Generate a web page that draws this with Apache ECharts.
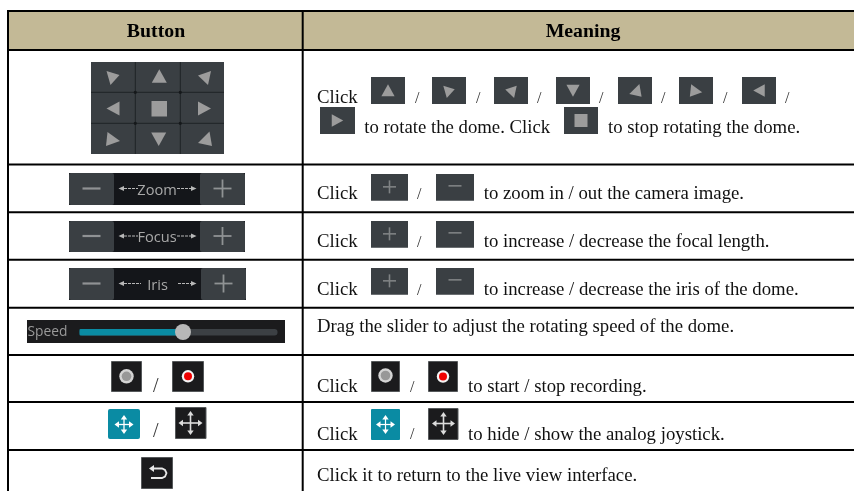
<!DOCTYPE html>
<html>
<head>
<meta charset="utf-8">
<style>html,body{margin:0;padding:0;background:#fff}#c{width:854px;height:491px}</style>
<script src="https://cdn.jsdelivr.net/npm/echarts@6/dist/echarts.min.js"></script>
</head>
<body>
<div id="c"></div>
<script>
// ---- text content ----
var headers = ['Button', 'Meaning'];
var clickWord = 'Click';
var rowTexts = [
  'to rotate the dome. Click', 'to stop rotating the dome.',
  'to zoom in / out the camera image.',
  'to increase / decrease the focal length.',
  'to increase / decrease the iris of the dome.',
  'Drag the slider to adjust the rotating speed of the dome.',
  'to start / stop recording.',
  'to hide / show the analog joystick.',
  'Click it to return to the live view interface.'
];
var barLabels = ['Zoom', 'Focus', 'Iris'];
var speedLabel = 'Speed';

// ---- drawing helpers ----
var els = [];
var SERIF = '"Liberation Serif","Times New Roman",serif';
var SANS = '"Open Sans","Noto Sans",sans-serif';
var DARK = '#3a3f43', GREY = '#9c9c9c', INK = '#1b1b1d', BORDER = '#55585a', TEAL = '#0a8ba3';
function rect(x, y, w, h, fill, r, stroke) {
  els.push({type:'rect', silent:true, shape:{x:x,y:y,width:w,height:h,r:r||0},
    style:{fill:fill, stroke:stroke||null, lineWidth:stroke?1:0}});
}
function line(x1,y1,x2,y2,c,w,dash){
  els.push({type:'line', silent:true, shape:{x1:x1,y1:y1,x2:x2,y2:y2},
    style:{stroke:c, lineWidth:w, lineDash:dash||null}});
}
function poly(pts,fill){ els.push({type:'polygon', silent:true, shape:{points:pts}, style:{fill:fill}}); }
function circ(x,y,r,fill){ els.push({type:'circle', silent:true, shape:{cx:x,cy:y,r:r}, style:{fill:fill}}); }
function text(t,x,base,size,opts){
  opts = opts||{};
  // baseline sits a little under the em-box middle
  els.push({type:'text', silent:true, x:x, y:base-0.22*size, style:{text:t, fill:opts.fill||'#111',
    font:(opts.bold?'bold ':'')+size+'px '+(opts.family||SERIF),
    align:opts.align||'left', verticalAlign:'middle'}});
}
// triangle shapes relative to icon centre (unit: px at full size)
var TRI = {
  tl:[[-6.5,-5.5],[6.5,-1.5],[-2.5,8.5]],
  t: [[0,-7],[-7.5,6.5],[7.5,6.5]],
  tr:[[6.5,-5.5],[-6.5,-1],[3.5,8.5]],
  l: [[6.5,-7],[-6.5,0],[6.5,7]],
  r: [[-6.5,-7],[-6.5,7],[6.5,0]],
  bl:[[-5.5,-7],[7,2],[-7,7]],
  b: [[-7.5,-6.5],[7.5,-6.5],[0,7]],
  br:[[5,-7.5],[-6.5,4],[7.5,7]]
};
function tri(kind,cx,cy,s){
  poly(TRI[kind].map(function(p){return [cx+p[0]*s, cy+p[1]*s];}), GREY);
}
function dirIcon(kind,x,y,w,h){
  rect(x,y,w,h,DARK);
  var cx=x+w/2, cy=y+h/2;
  if(kind==='stop'){ rect(cx-6.5,cy-6.5,13,13,GREY); }
  else tri(kind,cx,cy,0.88);
}
function plusIcon(x,y,w,h,minus){
  rect(x,y,w,h,DARK);
  var cx=x+w/2, cy=y+h/2-(minus?1.5:0.5);
  line(cx-6.5,cy,cx+6.5,cy,'#7f8284',1.6);
  if(!minus) line(cx,cy-6.5,cx,cy+6.5,'#7f8284',1.6);
}
function recIcon(x,y,w,h,on,cy){
  rect(x+.5,y+.5,w-1,h-1,INK,0,BORDER);
  var cx=x+w/2;
  if(on){ circ(cx,cy,6.2,'#f4f4f4'); circ(cx,cy,4,'#f00000'); }
  else { circ(cx,cy,7.2,'#d4d4d4'); circ(cx,cy,4.8,'#989898'); }
}
function cross(cx,cy,a,c,lw){
  line(cx-a,cy,cx+a,cy,c,lw); line(cx,cy-a,cx,cy+a,c,lw);
  var h=3.2;
  poly([[cx-a-2,cy],[cx-a+2.5,cy-h],[cx-a+2.5,cy+h]],c);
  poly([[cx+a+2,cy],[cx+a-2.5,cy-h],[cx+a-2.5,cy+h]],c);
  poly([[cx,cy-a-2],[cx-h,cy-a+2.5],[cx+h,cy-a+2.5]],c);
  poly([[cx,cy+a+2],[cx-h,cy+a-2.5],[cx+h,cy+a-2.5]],c);
}
function zoomBar(label,x,y,h,leftW,midW,rightW,lx,rx,textCx){
  rect(x,y,leftW+midW+rightW,h,'#14161a');
  rect(x,y,leftW,h,DARK,2);
  rect(x+leftW+midW,y,rightW,h,DARK,2);
  var cy=y+h/2-.5;
  line(x+leftW/2-9,cy,x+leftW/2+9,cy,'#8f9294',2.2);
  var px=x+leftW+midW+rightW/2;
  line(px-9,cy,px+9,cy,'#8f9294',1.8); line(px,cy-9,px,cy+9,'#8f9294',1.8);
  var ac='#b8b8b8';
  poly([[118.5,cy],[124,cy-2.5],[124,cy+2.5]],ac);
  line(124,cy,lx,cy,ac,1.2,[3,1]);
  poly([[196.5,cy],[191,cy-2.5],[191,cy+2.5]],ac);
  line(rx,cy,191,cy,ac,1.2,[3,1]);
  text(label,textCx,cy+5.5,14.6,{family:SANS,fill:'#a8a8a8',align:'center'});
}

// ---- table frame ----
rect(8,11,846,39,'#c3b996');
var rowLines=[11,50,164.5,212.3,259.7,307.7,355,402,450];
rowLines.forEach(function(y){ line(7,y,854,y,'#000',2); });
line(8,10,8,491,'#000',2);
line(302.7,10,302.7,491,'#000',2);
text(headers[0],156,36,19.8,{bold:true,align:'center',fill:'#000'});
text(headers[1],583,36,19.8,{bold:true,align:'center',fill:'#000'});

// ---- left column: direction pad ----
rect(91,62,133,92,DARK);
[135.3,180.3].forEach(function(x){ line(x,62,x,154,'#1f2326',1); });
[92.3,123.3].forEach(function(y){ line(91,y,224,y,'#1f2326',1); });
[135.3,180.3].forEach(function(x){[92.3,123.3].forEach(function(y){ circ(x,y,1.6,'#15181a'); });});
tri('tl',113,76.5,1); tri('t',159.3,76.3,1); tri('tr',204.5,76.5,1);
tri('l',113,108.5,1); rect(151.5,101,15.5,15.5,GREY); tri('r',204.5,108.5,1);
tri('bl',113,139,1); tri('b',158.7,139,1); tri('br',204.5,139,1);

// zoom / focus / iris bars
zoomBar(barLabels[0],69,173,32,45,86,45,138,177,157);
zoomBar(barLabels[1],69,221,31,45,86,45,138,177,157);
zoomBar(barLabels[2],69,268,32,45,87,45,141,178,157.5);

// speed bar
rect(27,320,258,23,INK);
text(speedLabel,27.5,335,13.8,{family:SANS,fill:'#9a9a9a'});
rect(79.5,329,198,6.5,'#3c4044',3);
rect(79.5,329,104,6.5,TEAL,1);
circ(183,332,8,'#b8b8b8');

// record + joystick + back
recIcon(111,361,31,31,false,376.3);
text('/',153,391,20,{fill:'#333'});
recIcon(172,361,32,31,true,376.3);
rect(108,409,32,30,TEAL,2);
cross(124,424.5,7.5,'#ffffff',1.3);
text('/',153,436,20,{fill:'#333'});
rect(175.5,407.5,30.5,31,INK,0,BORDER);
cross(190.5,423,10,'#dcdcdc',1.6);
rect(141.5,457.5,31,31,INK,0,BORDER);
els.push({type:'polyline', silent:true, shape:{points:[[152,468.5],[162,468.5],[165,470],[166.5,473],[165,476.5],[162,478],[151,478]]},
  style:{stroke:'#e8e8e8', lineWidth:1.8, fill:null}});
poly([[149,468.5],[154,465],[154,472]],'#e8e8e8');

// ---- right column ----
var FS = 18.75, SL = 16;
// row 1
text(clickWord,317,102.7,FS);
var r1x=[371,432,494,556,618,679,742], r1k=['t','tl','tr','b','br','bl','l'];
var r1s=[417,478,539,601,663,725,787];
r1x.forEach(function(x,i){ dirIcon(r1k[i],x,77,34,27); text('/',r1s[i]-2,102,SL,{fill:'#333'}); });
dirIcon('r',320,107,35,27);
text(rowTexts[0],364.3,132.7,FS);
dirIcon('stop',564,107,34,27);
text(rowTexts[1],608,132.7,FS);
// rows 2-4
[[174,198.3,2],[221,246.7,3],[268,294,4]].forEach(function(r){
  text(clickWord,317,r[1],FS);
  plusIcon(371,r[0],37,26.7,false);
  text('/',417,r[1],SL,{fill:'#333'});
  plusIcon(436,r[0],38,26.7,true);
  text(rowTexts[r[2]],483.7,r[1],FS);
});
// row 5
text(rowTexts[5],317,331.5,FS);
// row 6
text(clickWord,317,391.7,FS);
recIcon(371,361,29,31,false,375.5);
text('/',410,391,SL,{fill:'#333'});
recIcon(428,361,30,31,true,376.5);
text(rowTexts[6],468,391.7,FS);
// row 7
text(clickWord,317,439,FS);
rect(371,409,29,31,TEAL,1);
cross(385.5,424.5,7.5,'#ffffff',1.2);
text('/',410,438,SL,{fill:'#333'});
rect(428.5,408.5,29.5,31,INK,0,BORDER);
cross(443.5,423.5,9.5,'#dcdcdc',1.6);
text(rowTexts[7],468,439,FS);
// row 8
text(rowTexts[8],317,480,FS);

var chart = echarts.init(document.getElementById('c'), null, {renderer:'canvas'});
chart.setOption({animation:false, backgroundColor:'#ffffff', graphic:{elements:els}});
</script>
</body>
</html>
